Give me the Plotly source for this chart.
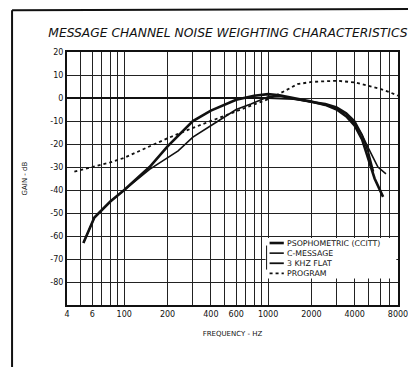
import math
import plotly.graph_objects as go

# ---- data ----
freq_psoph = [52, 62, 80, 100, 150, 200, 300, 400, 600, 800, 1000, 1200, 1500, 2000, 2500, 3000, 3500, 4000, 4500, 5000, 5500, 6300]
gain_psoph = [-63, -52, -45, -40, -30, -21, -10, -5.5, -0.8, 1.0, 1.7, 1.2, 0.0, -1.5, -3.0, -5.0, -8.0, -12, -18, -27, -35, -43]

freq_cmsg = [52, 62, 80, 100, 150, 237, 300, 450, 600, 760, 900, 1000, 1200, 1500, 2000, 2500, 3000, 3500, 4000, 4500, 5000, 5800, 6600]
gain_cmsg = [-63, -52, -45, -40, -31, -23, -17, -10, -5.0, -2.6, -0.5, 0.5, 0.8, -0.3, -1.8, -3.0, -4.5, -7.0, -11, -16, -22, -30, -33]

freq_flat = [40, 100, 500, 1000, 1500, 2000, 2500, 3000, 3500, 4000, 4500, 5000, 5400]
gain_flat = [0, 0, 0, 0, -0.5, -1.5, -2.5, -4.0, -6.5, -10, -16, -24, -32]

freq_prog = [45, 60, 80, 100, 150, 200, 300, 400, 500, 700, 1000, 1300, 1600, 2000, 2500, 3000, 4000, 5000, 6000, 7000, 8000]
gain_prog = [-32, -30, -28, -26, -21, -17.5, -13, -10, -7.8, -4.5, -0.5, 3.0, 6.0, 7.0, 7.4, 7.5, 6.8, 5.3, 4.0, 2.5, 1.0]

series_names = ["PSOPHOMETRIC (CCITT)", "C-MESSAGE", "3 KHZ FLAT", "PROGRAM"]

x_tickvals = [40, 50, 60, 70, 80, 90, 100, 200, 300, 400, 500, 600, 700, 800, 900,
              1000, 2000, 3000, 4000, 5000, 6000, 7000, 8000]
x_ticktext = ["4", "", "6", "", "", "", "100", "200", "", "400", "", "600", "", "", "",
              "1000", "2000", "", "4000", "", "", "", "8000"]
y_tickvals = [20, 10, 0, -10, -20, -30, -40, -50, -60, -70, -80, -90]
y_ticktext = ["20", "10", "0", "-10", "-20", "-30", "-40", "-50", "-60", "-70", "-80", ""]

ink = "#111111"
styles = [dict(color=ink, width=2.6), dict(color=ink, width=1.6),
          dict(color=ink, width=1.8), dict(color=ink, width=1.8, dash="dot")]
xs = [freq_psoph, freq_cmsg, freq_flat, freq_prog]
ys = [gain_psoph, gain_cmsg, gain_flat, gain_prog]

fig = go.Figure()
for name, fx, gy, st in zip(series_names, xs, ys, styles):
    fig.add_trace(go.Scatter(x=fx, y=gy, mode="lines", name=name, line=st, showlegend=False))

# the page body adds an 8 px offset, so the figure is 8 px smaller than the window
tickfont = dict(family="DejaVu Sans", size=8, color=ink)
fig.update_layout(
    width=408, height=359,
    margin=dict(l=59, r=18, t=44, b=62, autoexpand=False),
    paper_bgcolor="white", plot_bgcolor="white",
    title=dict(text="MESSAGE CHANNEL NOISE WEIGHTING CHARACTERISTICS",
               x=0.539, xanchor="center", y=0.93, yanchor="middle",
               font=dict(family="DejaVu Sans", size=12.3, color=ink, style="italic")),
    xaxis=dict(type="log", range=[math.log10(40), math.log10(8000)],
               tickmode="array", tickvals=x_tickvals, ticktext=x_ticktext,
               showgrid=True, gridcolor="#222222", gridwidth=1.4,
               showline=True, linecolor=ink, linewidth=2, mirror=True,
               ticks="", tickfont=tickfont, automargin=False, ticklabeloverflow="allow",
               title=dict(text="FREQUENCY - HZ", standoff=14,
                          font=dict(family="DejaVu Sans", size=7, color=ink))),
    yaxis=dict(range=[-90, 20], tickmode="array", tickvals=y_tickvals, ticktext=y_ticktext,
               showgrid=True, gridcolor="#222222", gridwidth=1.4, zeroline=False,
               showline=True, linecolor=ink, linewidth=2, mirror=True,
               ticks="", tickfont=tickfont, automargin=False,
               title=dict(text="GAIN - dB", standoff=22,
                          font=dict(family="DejaVu Sans", size=7, color=ink))),
    showlegend=False,
)

# compact legend box (drawn as in the reference: inside lower right)
fig.add_shape(type="rect", xref="paper", yref="paper", x0=0.6, x1=0.995, y0=0.105, y1=0.265,
              fillcolor="white", line=dict(width=0), layer="above")
row_y = [0.245, 0.205, 0.165, 0.125]
for name, st, ry in zip(series_names, styles, row_y):
    fig.add_shape(type="line", xref="paper", yref="paper", x0=0.612, x1=0.655, y0=ry, y1=ry,
                  line=st, layer="above")
    fig.add_annotation(xref="paper", yref="paper", x=0.662, y=ry, xanchor="left", yanchor="middle",
                       text=name, showarrow=False, borderpad=0,
                       font=dict(family="DejaVu Sans", size=7.8, color=ink))
# bracket at the legend's left
fig.add_shape(type="line", xref="paper", yref="paper", x0=0.603, x1=0.603, y0=0.14, y1=0.235,
              line=dict(color=ink, width=1), layer="above")

# scanned page frame
fig.add_shape(type="line", xref="paper", yref="paper", x0=-0.166, x1=1.06, y0=1.165, y1=1.17,
              line=dict(color=ink, width=2))
fig.add_shape(type="line", xref="paper", yref="paper", x0=-0.166, x1=-0.166, y0=-0.245, y1=1.165,
              line=dict(color=ink, width=2))

fig.write_html("out.html")
